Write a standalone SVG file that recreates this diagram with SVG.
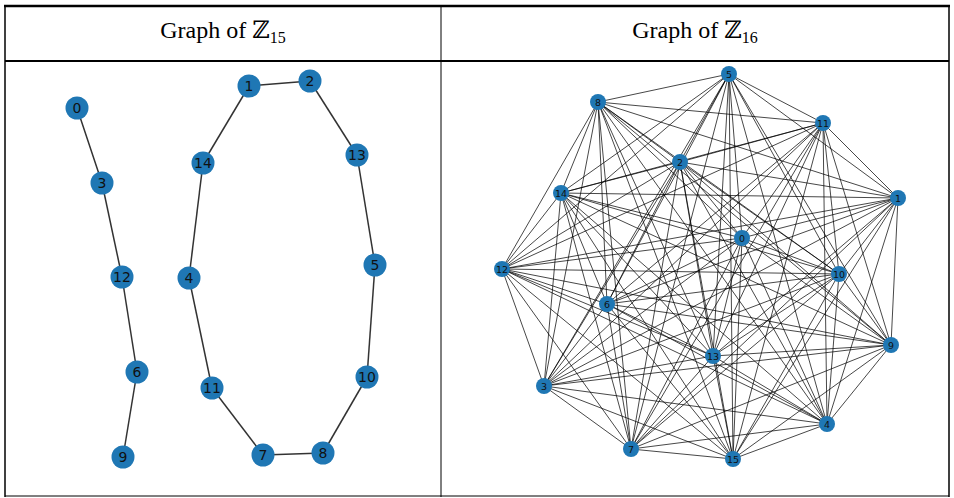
<svg xmlns="http://www.w3.org/2000/svg" width="954" height="498" viewBox="0 0 954 498">
<style>
.tb{stroke:#000;fill:none}
.h{font-family:"Liberation Serif","DejaVu Serif",serif;font-size:24px;text-anchor:middle;fill:#000}
.le line{stroke:#333;stroke-width:1.5}
.re line{stroke:#000;stroke-opacity:0.72;stroke-width:1}
.nl circle{fill:#1f77b4}
.nl text{font-family:"DejaVu Sans",sans-serif;font-size:14px;text-anchor:middle;dominant-baseline:central;fill:#111}
.nr circle{fill:#1f77b4}
.nr text{font-family:"DejaVu Sans",sans-serif;font-size:9.5px;text-anchor:middle;dominant-baseline:central;fill:#111}
</style>
<rect width="954" height="498" fill="#fff"/>
<g id="table">
<line class="tb" x1="4" y1="6" x2="950" y2="6" stroke-width="2.5"/>
<line class="tb" x1="5" y1="5" x2="5" y2="497" stroke-width="1.5"/>
<line class="tb" x1="949" y1="5" x2="949" y2="497" stroke-width="1.5"/>
<line class="tb" x1="441" y1="5" x2="441" y2="497" stroke-width="1"/>
<line class="tb" x1="5" y1="61" x2="949" y2="61" stroke-width="2"/>
<line class="tb" x1="5" y1="496" x2="949" y2="496" stroke-width="1"/>
</g>
<g id="headers">
<text class="h" x="223" y="38">Graph of ℤ<tspan font-size="16" dy="5">15</tspan></text>
<text class="h" x="695" y="38">Graph of ℤ<tspan font-size="16" dy="5">16</tspan></text>
</g>
<g id="edges-z15" class="le">
<line x1="77" y1="108" x2="102" y2="183"/>
<line x1="102" y1="183" x2="122" y2="277"/>
<line x1="122" y1="277" x2="137" y2="372"/>
<line x1="137" y1="372" x2="123" y2="457"/>
<line x1="249" y1="86" x2="310" y2="81"/>
<line x1="310" y1="81" x2="357" y2="155"/>
<line x1="357" y1="155" x2="375" y2="265"/>
<line x1="375" y1="265" x2="367" y2="377"/>
<line x1="367" y1="377" x2="323" y2="453"/>
<line x1="323" y1="453" x2="263" y2="455"/>
<line x1="263" y1="455" x2="212" y2="388"/>
<line x1="212" y1="388" x2="189" y2="278"/>
<line x1="189" y1="278" x2="203" y2="163"/>
<line x1="203" y1="163" x2="249" y2="86"/>
</g>
<g id="nodes-z15" class="nl">
<g id="a0"><circle cx="77" cy="108" r="11.5"/><text x="77" y="108">0</text></g>
<g id="a3"><circle cx="102" cy="183" r="11.5"/><text x="102" y="183">3</text></g>
<g id="a12"><circle cx="122" cy="277" r="11.5"/><text x="122" y="277">12</text></g>
<g id="a6"><circle cx="137" cy="372" r="11.5"/><text x="137" y="372">6</text></g>
<g id="a9"><circle cx="123" cy="457" r="11.5"/><text x="123" y="457">9</text></g>
<g id="a1"><circle cx="249" cy="86" r="11.5"/><text x="249" y="86">1</text></g>
<g id="a2"><circle cx="310" cy="81" r="11.5"/><text x="310" y="81">2</text></g>
<g id="a13"><circle cx="357" cy="155" r="11.5"/><text x="357" y="155">13</text></g>
<g id="a14"><circle cx="203" cy="163" r="11.5"/><text x="203" y="163">14</text></g>
<g id="a4"><circle cx="189" cy="278" r="11.5"/><text x="189" y="278">4</text></g>
<g id="a5"><circle cx="375" cy="265" r="11.5"/><text x="375" y="265">5</text></g>
<g id="a10"><circle cx="367" cy="377" r="11.5"/><text x="367" y="377">10</text></g>
<g id="a11"><circle cx="212" cy="388" r="11.5"/><text x="212" y="388">11</text></g>
<g id="a7"><circle cx="263" cy="455" r="11.5"/><text x="263" y="455">7</text></g>
<g id="a8"><circle cx="323" cy="453" r="11.5"/><text x="323" y="453">8</text></g>
</g>
<g id="edges-z16" class="re">
<line x1="742" y1="238" x2="898" y2="198"/><line x1="742" y1="238" x2="680" y2="162"/><line x1="742" y1="238" x2="544" y2="386"/><line x1="742" y1="238" x2="827" y2="424"/><line x1="742" y1="238" x2="729" y2="74"/><line x1="742" y1="238" x2="607" y2="304"/><line x1="742" y1="238" x2="631" y2="449"/><line x1="742" y1="238" x2="598" y2="102"/><line x1="742" y1="238" x2="891" y2="345"/><line x1="742" y1="238" x2="839" y2="274"/><line x1="742" y1="238" x2="823" y2="123"/><line x1="742" y1="238" x2="502" y2="269"/><line x1="742" y1="238" x2="713" y2="356"/><line x1="742" y1="238" x2="561" y2="193"/><line x1="742" y1="238" x2="733" y2="459"/>
<line x1="898" y1="198" x2="680" y2="162"/><line x1="898" y1="198" x2="544" y2="386"/><line x1="898" y1="198" x2="827" y2="424"/><line x1="898" y1="198" x2="729" y2="74"/><line x1="898" y1="198" x2="607" y2="304"/><line x1="898" y1="198" x2="631" y2="449"/><line x1="898" y1="198" x2="598" y2="102"/><line x1="898" y1="198" x2="891" y2="345"/><line x1="898" y1="198" x2="839" y2="274"/><line x1="898" y1="198" x2="823" y2="123"/><line x1="898" y1="198" x2="502" y2="269"/><line x1="898" y1="198" x2="713" y2="356"/><line x1="898" y1="198" x2="561" y2="193"/><line x1="898" y1="198" x2="733" y2="459"/>
<line x1="680" y1="162" x2="544" y2="386"/><line x1="680" y1="162" x2="827" y2="424"/><line x1="680" y1="162" x2="729" y2="74"/><line x1="680" y1="162" x2="607" y2="304"/><line x1="680" y1="162" x2="631" y2="449"/><line x1="680" y1="162" x2="598" y2="102"/><line x1="680" y1="162" x2="891" y2="345"/><line x1="680" y1="162" x2="839" y2="274"/><line x1="680" y1="162" x2="823" y2="123"/><line x1="680" y1="162" x2="502" y2="269"/><line x1="680" y1="162" x2="713" y2="356"/><line x1="680" y1="162" x2="561" y2="193"/><line x1="680" y1="162" x2="733" y2="459"/>
<line x1="544" y1="386" x2="827" y2="424"/><line x1="544" y1="386" x2="729" y2="74"/><line x1="544" y1="386" x2="607" y2="304"/><line x1="544" y1="386" x2="631" y2="449"/><line x1="544" y1="386" x2="598" y2="102"/><line x1="544" y1="386" x2="891" y2="345"/><line x1="544" y1="386" x2="839" y2="274"/><line x1="544" y1="386" x2="823" y2="123"/><line x1="544" y1="386" x2="502" y2="269"/><line x1="544" y1="386" x2="713" y2="356"/><line x1="544" y1="386" x2="561" y2="193"/><line x1="544" y1="386" x2="733" y2="459"/>
<line x1="827" y1="424" x2="729" y2="74"/><line x1="827" y1="424" x2="607" y2="304"/><line x1="827" y1="424" x2="631" y2="449"/><line x1="827" y1="424" x2="598" y2="102"/><line x1="827" y1="424" x2="891" y2="345"/><line x1="827" y1="424" x2="839" y2="274"/><line x1="827" y1="424" x2="823" y2="123"/><line x1="827" y1="424" x2="502" y2="269"/><line x1="827" y1="424" x2="713" y2="356"/><line x1="827" y1="424" x2="561" y2="193"/><line x1="827" y1="424" x2="733" y2="459"/>
<line x1="729" y1="74" x2="607" y2="304"/><line x1="729" y1="74" x2="631" y2="449"/><line x1="729" y1="74" x2="598" y2="102"/><line x1="729" y1="74" x2="891" y2="345"/><line x1="729" y1="74" x2="839" y2="274"/><line x1="729" y1="74" x2="823" y2="123"/><line x1="729" y1="74" x2="502" y2="269"/><line x1="729" y1="74" x2="713" y2="356"/><line x1="729" y1="74" x2="561" y2="193"/><line x1="729" y1="74" x2="733" y2="459"/>
<line x1="607" y1="304" x2="631" y2="449"/><line x1="607" y1="304" x2="598" y2="102"/><line x1="607" y1="304" x2="891" y2="345"/><line x1="607" y1="304" x2="839" y2="274"/><line x1="607" y1="304" x2="823" y2="123"/><line x1="607" y1="304" x2="502" y2="269"/><line x1="607" y1="304" x2="713" y2="356"/><line x1="607" y1="304" x2="561" y2="193"/><line x1="607" y1="304" x2="733" y2="459"/>
<line x1="631" y1="449" x2="598" y2="102"/><line x1="631" y1="449" x2="891" y2="345"/><line x1="631" y1="449" x2="839" y2="274"/><line x1="631" y1="449" x2="823" y2="123"/><line x1="631" y1="449" x2="502" y2="269"/><line x1="631" y1="449" x2="713" y2="356"/><line x1="631" y1="449" x2="561" y2="193"/><line x1="631" y1="449" x2="733" y2="459"/>
<line x1="598" y1="102" x2="891" y2="345"/><line x1="598" y1="102" x2="839" y2="274"/><line x1="598" y1="102" x2="823" y2="123"/><line x1="598" y1="102" x2="502" y2="269"/><line x1="598" y1="102" x2="713" y2="356"/><line x1="598" y1="102" x2="561" y2="193"/><line x1="598" y1="102" x2="733" y2="459"/>
<line x1="891" y1="345" x2="839" y2="274"/><line x1="891" y1="345" x2="823" y2="123"/><line x1="891" y1="345" x2="502" y2="269"/><line x1="891" y1="345" x2="713" y2="356"/><line x1="891" y1="345" x2="561" y2="193"/><line x1="891" y1="345" x2="733" y2="459"/>
<line x1="839" y1="274" x2="823" y2="123"/><line x1="839" y1="274" x2="502" y2="269"/><line x1="839" y1="274" x2="713" y2="356"/><line x1="839" y1="274" x2="561" y2="193"/><line x1="839" y1="274" x2="733" y2="459"/>
<line x1="823" y1="123" x2="502" y2="269"/><line x1="823" y1="123" x2="713" y2="356"/><line x1="823" y1="123" x2="561" y2="193"/><line x1="823" y1="123" x2="733" y2="459"/>
<line x1="502" y1="269" x2="713" y2="356"/><line x1="502" y1="269" x2="561" y2="193"/><line x1="502" y1="269" x2="733" y2="459"/>
<line x1="713" y1="356" x2="561" y2="193"/><line x1="713" y1="356" x2="733" y2="459"/>
<line x1="561" y1="193" x2="733" y2="459"/>
</g>
<g id="nodes-z16" class="nr">
<g id="b0"><circle cx="742" cy="238" r="8"/><text x="742" y="238">0</text></g>
<g id="b1"><circle cx="898" cy="198" r="8"/><text x="898" y="198">1</text></g>
<g id="b2"><circle cx="680" cy="162" r="8"/><text x="680" y="162">2</text></g>
<g id="b3"><circle cx="544" cy="386" r="8"/><text x="544" y="386">3</text></g>
<g id="b4"><circle cx="827" cy="424" r="8"/><text x="827" y="424">4</text></g>
<g id="b5"><circle cx="729" cy="74" r="8"/><text x="729" y="74">5</text></g>
<g id="b6"><circle cx="607" cy="304" r="8"/><text x="607" y="304">6</text></g>
<g id="b7"><circle cx="631" cy="449" r="8"/><text x="631" y="449">7</text></g>
<g id="b8"><circle cx="598" cy="102" r="8"/><text x="598" y="102">8</text></g>
<g id="b9"><circle cx="891" cy="345" r="8"/><text x="891" y="345">9</text></g>
<g id="b10"><circle cx="839" cy="274" r="8"/><text x="839" y="274">10</text></g>
<g id="b11"><circle cx="823" cy="123" r="8"/><text x="823" y="123">11</text></g>
<g id="b12"><circle cx="502" cy="269" r="8"/><text x="502" y="269">12</text></g>
<g id="b13"><circle cx="713" cy="356" r="8"/><text x="713" y="356">13</text></g>
<g id="b14"><circle cx="561" cy="193" r="8"/><text x="561" y="193">14</text></g>
<g id="b15"><circle cx="733" cy="459" r="8"/><text x="733" y="459">15</text></g>
</g>
</svg>
